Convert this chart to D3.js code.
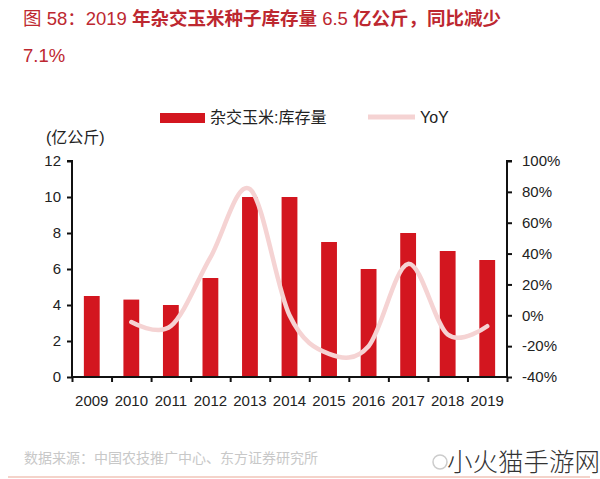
<!DOCTYPE html>
<html><head><meta charset="utf-8">
<script src="https://cdn.jsdelivr.net/npm/d3@7"></script>
<style>body{margin:0;background:#fff}svg{display:block}text{font-family:"Liberation Sans","Noto Sans CJK SC",sans-serif}</style>
</head><body>
<script>
const years = ["2009","2010","2011","2012","2013","2014","2015","2016","2017","2018","2019"];
const stock = [4.5,4.3,4.0,5.5,10,10,7.5,6.0,8.0,7.0,6.5];
const yoyYears = ["2010","2011","2012","2013","2014","2015","2016","2017","2018","2019"];
const yoy = [-4.4,-7.0,37.5,81.8,0,-25,-20,33.3,-12.5,-7.1];
const leftTicks = [0,2,4,6,8,10,12];
const rightTicks = [-40,-20,0,20,40,60,80,100];

const W=600,H=479;
const svg=d3.select("body").append("svg").attr("width",W).attr("height",H);
const x0=72,x1=507,yTop=161,yBot=377;
const x=d3.scaleBand().domain(years).range([x0,x1]).paddingInner(0.6).paddingOuter(0.3);
const yL=d3.scaleLinear().domain([0,12]).range([yBot,yTop]);
const yR=d3.scaleLinear().domain([-40,100]).range([yBot,yTop]);

// title
const red="#bd2830";
const t1=svg.append("text").attr("x",23).attr("y",25).attr("fill",red).style("font-size","18.5px");
[["图 58：2019 ",400],["年杂交玉米种子库存量",700],[" 6.5 ",400],["亿公斤，同比减少",700]].forEach(([s,w])=>t1.append("tspan").attr("font-weight",w).text(s));
svg.append("text").attr("x",23).attr("y",62).attr("fill",red).style("font-size","18.5px").text("7.1%");

// bars
svg.selectAll("rect.bar").data(years).enter().append("rect").attr("class","bar")
  .attr("x",d=>x(d)).attr("width",x.bandwidth())
  .attr("y",(d,i)=>yL(stock[i])).attr("height",(d,i)=>yBot-yL(stock[i]))
  .attr("fill","#d3161f");

// line
const line=d3.line().x(d=>x(d[0])+x.bandwidth()/2).y(d=>yR(d[1])).curve(d3.curveCardinal.tension(0));
svg.append("path").datum(yoyYears.map((d,i)=>[d,yoy[i]])).attr("d",line)
  .attr("fill","none").attr("stroke","#f5d3d3").attr("stroke-width",4.5).attr("stroke-linecap","round");

// axes
const fs="15px";
const gL=svg.append("g").attr("transform",`translate(${x0},0)`).call(d3.axisLeft(yL).tickValues(leftTicks).tickSize(5).tickPadding(6));
const gR=svg.append("g").attr("transform",`translate(${x1},0)`).call(d3.axisRight(yR).tickValues(rightTicks).tickFormat(d=>d+"%").tickSize(5).tickPadding(10));
const xb=d3.scaleLinear().domain([0,11]).range([x0,x1]);
const gX=svg.append("g").attr("transform",`translate(0,${yBot})`).call(d3.axisBottom(xb).ticks(11).tickSize(5).tickFormat(""));
svg.append("g").selectAll("text").data(years).enter().append("text")
  .attr("x",d=>x(d)+x.bandwidth()/2).attr("y",406).attr("text-anchor","middle")
  .style("font-size",fs).attr("fill","#222").text(d=>d);
[gL,gR,gX].forEach(g=>{g.select(".domain").attr("stroke","#111").attr("stroke-width",2);
  g.selectAll(".tick line").attr("stroke","#111").attr("stroke-width",2);
  g.selectAll("text").style("font-size",fs).attr("fill","#222").style("font-family","Liberation Sans, sans-serif");});
gL.select(".domain").attr("d",`M-5,${yTop}H0V${yBot}`);
gR.select(".domain").attr("d",`M5,${yTop}H0V${yBot}`);
gX.select(".domain").attr("d",`M${x0},0H${x1}`);

// unit
svg.append("text").attr("x",46).attr("y",143).style("font-size","16px").attr("fill","#222").text("(亿公斤)");

// legend
svg.append("rect").attr("x",160).attr("y",113).attr("width",45).attr("height",10).attr("fill","#d3161f");
svg.append("text").attr("x",210).attr("y",123).style("font-size","16px").attr("fill","#222").text("杂交玉米:库存量");
svg.append("line").attr("x1",368).attr("x2",415).attr("y1",117).attr("y2",117).attr("stroke","#f5d3d3").attr("stroke-width",5);
svg.append("text").attr("x",420).attr("y",123).style("font-size","16px").attr("fill","#222").text("YoY");

// footer
svg.append("text").attr("x",24).attr("y",463).style("font-size","14px").attr("fill","#c8c8c8").text("数据来源：中国农技推广中心、东方证券研究所");
svg.append("line").attr("x1",8).attr("x2",590).attr("y1",477).attr("y2",477).attr("stroke","#f0c4b8").attr("stroke-width",1.5);
svg.append("circle").attr("cx",440).attr("cy",462).attr("r",7).attr("fill","none").attr("stroke","#ccc").attr("stroke-width",1.5);
svg.append("text").attr("x",447).attr("y",471).style("font-size","25.5px").attr("fill","#333").style("font-family","Noto Sans CJK SC").attr("font-weight",300).text("小火猫手游网");
</script>
</body></html>
